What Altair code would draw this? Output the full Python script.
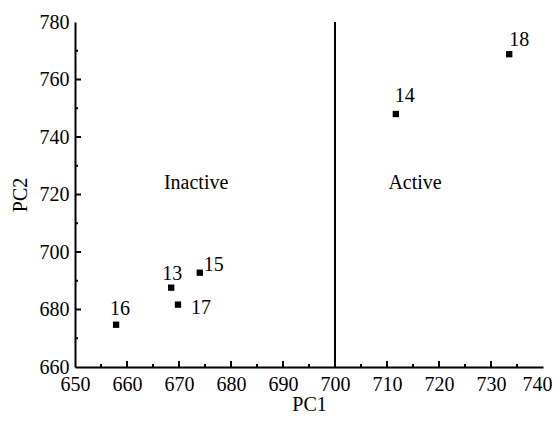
import altair as alt
import pandas as pd

labels = ["13", "14", "15", "16", "17", "18"]
pc1 = [668.5, 711.7, 674.0, 657.9, 669.8, 733.5]
pc2 = [687.6, 748.0, 692.8, 674.7, 681.7, 768.8]

regions = ["Inactive", "Active"]
region_x = [673.3, 715.4]
region_y = [724.0, 724.0]

split_x = [700]
x_major = [650, 660, 670, 680, 690, 700, 710, 720, 730, 740]
x_minor = [655, 665, 675, 685, 695, 705, 715, 725, 735]
y_major = [660, 680, 700, 720, 740, 760, 780]
y_minor = [670, 690, 710, 730, 750, 770]

W, H = 468, 345
FONT = "Liberation Serif"
FS = 20

pts = pd.DataFrame({"label": labels, "pc1": pc1, "pc2": pc2})
reg = pd.DataFrame({"region": regions, "x": region_x, "y": region_y})
line = pd.DataFrame({"x": split_x, "y0": [660], "y1": [780]})

xs = alt.Scale(domain=[650, 740], nice=False, zero=False)
ys = alt.Scale(domain=[660, 780], nice=False, zero=False)

points = alt.Chart(pts).mark_square(size=40, color="black", opacity=1).encode(
    x=alt.X("pc1:Q", scale=xs, title="PC1",
            axis=alt.Axis(values=x_major, ticks=False, labelPadding=7,
                          titlePadding=0, grid=False, labelFlush=False,
                          labelOverlap=False,
                          labelOffset={"condition": {"test": "datum.value == 740", "value": -6}, "value": 0})),
    y=alt.Y("pc2:Q", scale=ys, title="PC2",
            axis=alt.Axis(values=y_major, ticks=False, labelPadding=6,
                          titlePadding=9, grid=False, labelFlush=False,
                          labelOverlap=False)),
)

vline = alt.Chart(line).mark_rule(color="black", strokeWidth=2).encode(
    x=alt.X("x:Q", scale=xs),
    y=alt.Y("y0:Q", scale=ys),
    y2="y1:Q",
)

def xticks(vals, length):
    return alt.Chart(pd.DataFrame({"v": vals})).mark_rule(
        color="black", strokeWidth=2).encode(
        x=alt.X("v:Q", scale=xs), y=alt.value(H), y2=alt.value(H - length))

def yticks(vals, length):
    return alt.Chart(pd.DataFrame({"v": vals})).mark_rule(
        color="black", strokeWidth=2).encode(
        y=alt.Y("v:Q", scale=ys), x=alt.value(0), x2=alt.value(length))

offsets = {"13": (1, -14), "14": (9, -18), "15": (14, -8),
           "16": (4, -16), "17": (23, 3), "18": (10, -14)}

text_layers = []
for lab in labels:
    dx, dy = offsets[lab]
    text_layers.append(
        alt.Chart(pts).transform_filter(alt.datum.label == lab)
        .mark_text(font=FONT, fontSize=FS, color="black", dx=dx, dy=dy,
                   align="center", baseline="middle")
        .encode(x=alt.X("pc1:Q", scale=xs),
                y=alt.Y("pc2:Q", scale=ys),
                text="label:N")
    )

region_text = alt.Chart(reg).mark_text(
    font=FONT, fontSize=FS, color="black", align="center", baseline="middle"
).encode(
    x=alt.X("x:Q", scale=xs),
    y=alt.Y("y:Q", scale=ys),
    text="region:N",
)

chart = alt.layer(
    points, vline, xticks(x_major[1:-1], 6), xticks(x_minor, 3),
    yticks(y_major[1:-1], 6), yticks(y_minor, 3), region_text, *text_layers
).properties(
    width=W, height=H,
    autosize=alt.AutoSizeParams(type="none"),
    padding={"left": 67, "top": 14, "right": 9, "bottom": 50},
).configure_view(stroke=None).configure_axis(
    labelFont=FONT, titleFont=FONT, labelFontSize=FS, titleFontSize=FS,
    labelColor="black", titleColor="black", domainColor="black",
    tickColor="black", domainWidth=2, tickWidth=2, titleFontWeight="normal",
)

chart.save("out.html", embed_options={"renderer": "svg", "actions": False})
